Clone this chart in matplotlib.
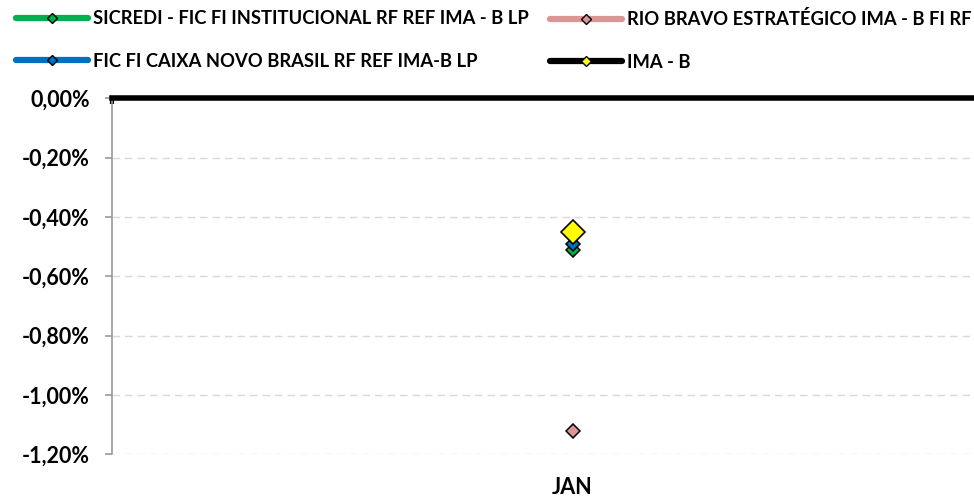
import matplotlib.pyplot as plt
from matplotlib.lines import Line2D
import numpy as np

plt.rcParams['font.family'] = ['Lato', 'DejaVu Sans']
plt.rcParams['font.weight'] = 'bold'

# data
months = ['JAN']
series_names = ['SICREDI - FIC FI INSTITUCIONAL RF REF IMA - B LP',
                'RIO BRAVO ESTRATÉGICO IMA - B FI RF',
                'FIC FI CAIXA NOVO BRASIL RF REF IMA-B LP',
                'IMA - B']
sicredi = [-0.51]
rio_bravo = [-1.12]
caixa = [-0.49]
ima_b = [-0.45]
y_ticks = [0.0, -0.2, -0.4, -0.6, -0.8, -1.0, -1.2]

line_colors = ['#00B050', '#D99694', '#0070C0', '#000000']
marker_colors = ['#00B050', '#D99694', '#0070C0', '#FFFF00']

fig = plt.figure(figsize=(9.74, 5), dpi=100)
ax = fig.add_axes([0.115, 0.0914, 0.9456, 0.712])

x = np.arange(len(months))

# draw order: rio bravo, sicredi, caixa, ima-b on top
ax.plot(x, rio_bravo, ls='none', marker='D', ms=7.5, mfc=marker_colors[1], mec='black', mew=1.1, zorder=3)
ax.plot(x, sicredi, ls='none', marker='D', ms=7.5, mfc=marker_colors[0], mec='black', mew=1.1, zorder=4)
ax.plot(x, caixa, ls='none', marker='D', ms=7.5, mfc=marker_colors[2], mec='black', mew=1.1, zorder=5)
ax.plot(x, ima_b, ls='none', marker='D', ms=12.5, mfc=marker_colors[3], mec='black', mew=1.2, zorder=6)

ax.set_xlim(-0.5, len(months) - 0.5)
ax.set_ylim(-1.2, 0)

ax.set_yticks(y_ticks)
ax.set_yticklabels([('%.2f%%' % v).replace('.', ',').replace('-0,00', '0,00') for v in y_ticks],
                   fontsize=15.5, fontweight='bold')
ax.tick_params(axis='y', direction='out', length=5, width=1.2, color='#999999', pad=11)

ax.set_xticks(x)
ax.set_xticklabels(months, fontsize=15.5, fontweight='bold')
ax.tick_params(axis='x', which='major', length=0, pad=16)
ax.set_xticks([-0.5, 0.5], minor=True)
ax.tick_params(axis='x', which='minor', top=True, bottom=False, direction='in',
               length=4, width=3, color='black')

ax.yaxis.grid(True, color='#D9D9D9', lw=1.0, dashes=(5.5, 3.5))
ax.set_axisbelow(True)

ax.spines['right'].set_visible(False)
ax.spines['bottom'].set_visible(False)
ax.spines['top'].set_color('black')
ax.spines['top'].set_linewidth(4)
ax.spines['left'].set_color('#999999')
ax.spines['left'].set_linewidth(1.2)

# legend handles
handles = []
for i in range(4):
    handles.append(Line2D([0], [0], color=line_colors[i], lw=4.5, solid_capstyle='round',
                          marker='D', ms=5, mfc=marker_colors[i], mec='black', mew=1.0))

leg_kw = dict(loc='upper left', bbox_transform=fig.transFigure, frameon=False,
              handlelength=3.9, handletextpad=0.3, borderpad=0, borderaxespad=0,
              labelspacing=1.4, numpoints=1, prop={'size': 13.2, 'weight': 'bold'})
leg1 = fig.legend([handles[0], handles[2]], [series_names[0], series_names[2]],
                  bbox_to_anchor=(16 / 974, 0.98), **leg_kw)
leg2 = fig.legend([handles[1], handles[3]], [series_names[1], series_names[3]],
                  bbox_to_anchor=(550 / 974, 0.98), **leg_kw)

fig.savefig('out.png', dpi=100)
